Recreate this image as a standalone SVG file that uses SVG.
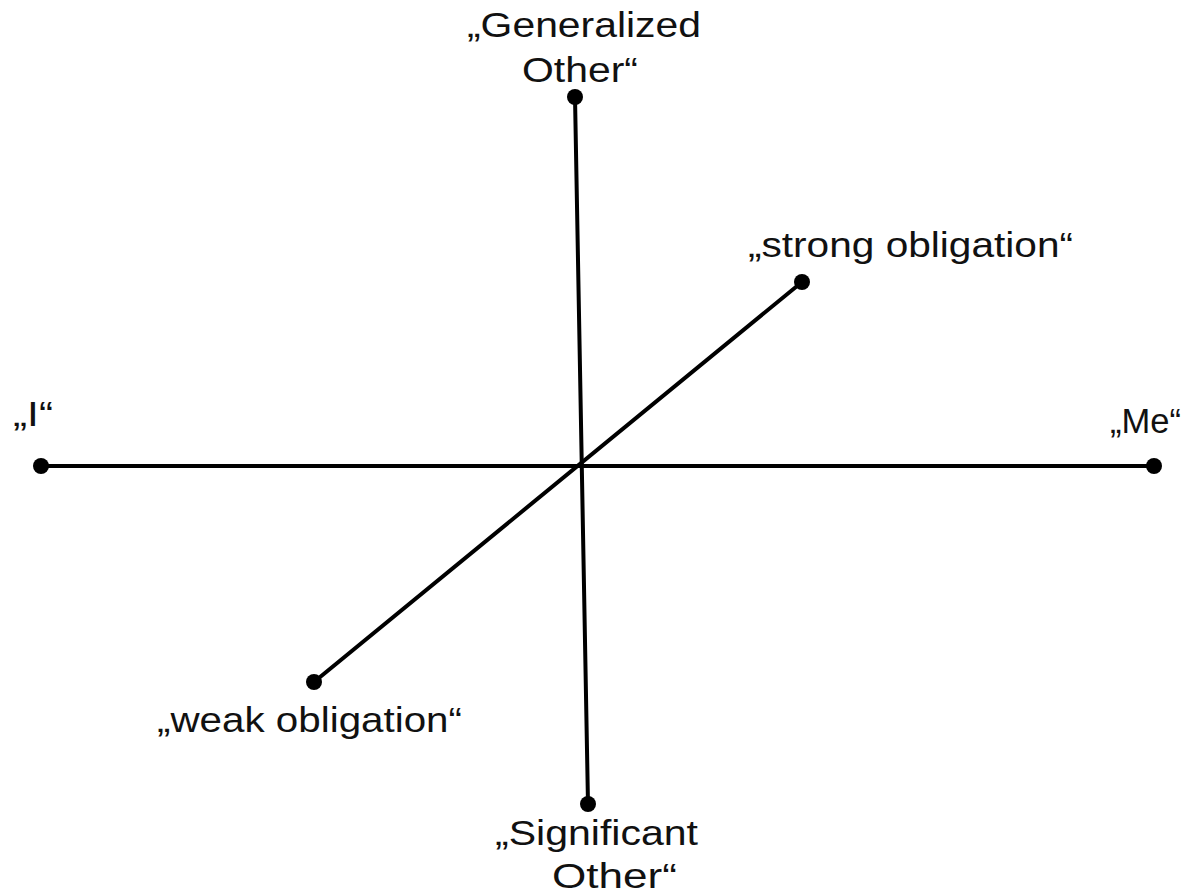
<svg xmlns="http://www.w3.org/2000/svg" width="1188" height="894" viewBox="0 0 1188 894">
<style>
.ln{stroke:#000;stroke-width:4;fill:none;stroke-linecap:round}
.dot{fill:#000}
text{font-family:"Liberation Sans",Arial,sans-serif;font-size:35px;fill:#111}
</style>
<rect width="1188" height="894" fill="#fff"/>
<g id="connectors">
<line class="ln" x1="41" y1="466" x2="1154" y2="466"/>
<line class="ln" x1="575" y1="97" x2="588" y2="804"/>
<line class="ln" x1="314" y1="682" x2="802" y2="282"/>
</g>
<g id="node-I">
<circle class="dot" cx="41" cy="466" r="8"/>
<text x="13" y="426" textLength="40" lengthAdjust="spacingAndGlyphs">„I“</text>
</g>
<g id="node-Me">
<circle class="dot" cx="1154" cy="466" r="8"/>
<text x="1110" y="433" textLength="71" lengthAdjust="spacingAndGlyphs">„Me“</text>
</g>
<g id="node-generalized">
<circle class="dot" cx="575" cy="97" r="8"/>
<text x="467" y="37" textLength="234" lengthAdjust="spacingAndGlyphs">„Generalized</text>
<text x="522" y="82" textLength="116" lengthAdjust="spacingAndGlyphs">Other“</text>
</g>
<g id="node-significant">
<circle class="dot" cx="588" cy="804" r="8"/>
<text x="495" y="845" textLength="203" lengthAdjust="spacingAndGlyphs">„Significant</text>
<text x="552" y="888" textLength="125" lengthAdjust="spacingAndGlyphs">Other“</text>
</g>
<g id="node-strong">
<circle class="dot" cx="802" cy="282" r="8"/>
<text x="748" y="257" textLength="325" lengthAdjust="spacingAndGlyphs">„strong obligation“</text>
</g>
<g id="node-weak">
<circle class="dot" cx="314" cy="682" r="8"/>
<text x="157" y="732" textLength="305" lengthAdjust="spacingAndGlyphs">„weak obligation“</text>
</g>
</svg>
